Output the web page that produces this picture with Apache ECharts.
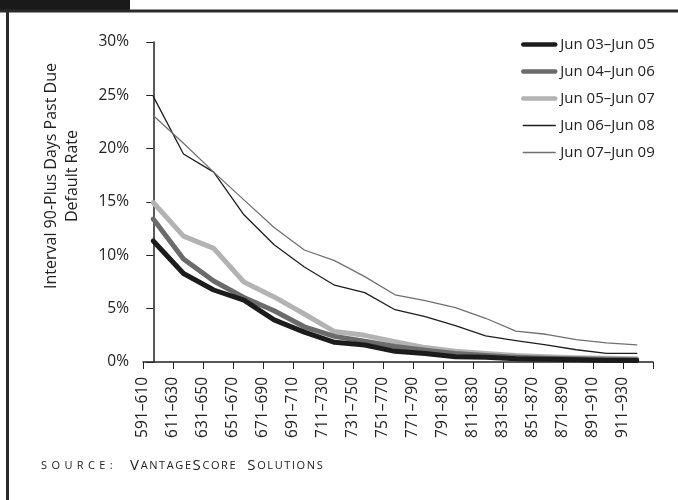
<!DOCTYPE html>
<html>
<head>
<meta charset="utf-8">
<script src="https://cdn.jsdelivr.net/npm/echarts@6/dist/echarts.min.js"></script>
<style>
  * { margin: 0; padding: 0; }
  body { background: #fff; }
  #chart { width: 678px; height: 500px; }
</style>
</head>
<body>
<div id="chart"></div>
<script>
// score bands on the x axis
var bands = ['591–610', '611–630', '631–650', '651–670', '671–690', '691–710', '711–730', '731–750',
  '751–770', '771–790', '791–810', '811–830', '831–850', '851–870', '871–890', '891–910', '911–930'];
var yTicks = [0, 5, 10, 15, 20, 25, 30];

// default rate (%) per band, one array per period
var jun03_05 = [11.35, 8.3, 6.75, 5.8, 3.95, 2.8, 1.85, 1.6, 1.0, 0.8, 0.5, 0.45, 0.3, 0.25, 0.2, 0.15, 0.15];
var jun04_06 = [13.4, 9.65, 7.6, 6.05, 4.8, 3.3, 2.4, 1.95, 1.45, 1.1, 0.8, 0.6, 0.45, 0.35, 0.3, 0.25, 0.2];
var jun05_07 = [14.95, 11.8, 10.65, 7.5, 6.1, 4.5, 2.85, 2.5, 1.9, 1.35, 1.0, 0.8, 0.6, 0.5, 0.4, 0.35, 0.3];
var jun06_08 = [24.9, 19.5, 17.8, 13.8, 11.0, 8.9, 7.2, 6.5, 4.9, 4.25, 3.4, 2.45, 2.0, 1.6, 1.15, 0.8, 0.8];
var jun07_09 = [23.1, 20.5, 17.8, 15.2, 12.6, 10.5, 9.5, 8.0, 6.3, 5.75, 5.1, 4.1, 2.9, 2.6, 2.1, 1.8, 1.6];

var names = ['Jun 03–Jun 05', 'Jun 04–Jun 06', 'Jun 05–Jun 07', 'Jun 06–Jun 08', 'Jun 07–Jun 09'];
var colors = ['#1c1c1c', '#6b6b6b', '#b3b3b3', '#1e1e1e', '#707070'];
var widths = [5, 5, 5, 1.3, 1.3];

var font = 'Open Sans';
var ink = '#222';

function mkSeries(idx, vals, z) {
  return {
    name: names[idx],
    type: 'line',
    xAxisIndex: 1,
    symbol: 'none',
    z: z,
    lineStyle: { color: colors[idx], width: widths[idx], cap: 'round', join: 'round' },
    itemStyle: { color: colors[idx] },
    data: vals.map(function (v, i) { return [i, v]; })
  };
}

// letter-spaced small caps for the source line
function spaced(str, style) {
  return str.split('').map(function (c) { return '{' + style + '|' + c + '}'; }).join('');
}

var myChart = echarts.init(document.getElementById('chart'));
myChart.setOption({
  backgroundColor: '#fff',
  animation: false,
  grid: { left: 143, right: 25, top: 42, bottom: 138 },
  legend: {
    orient: 'vertical',
    left: 521,
    top: 37,
    padding: 0,
    itemWidth: 32,
    itemHeight: 14,
    itemGap: 12,
    itemStyle: { opacity: 0 },
    textStyle: { fontFamily: font, fontSize: 15, color: ink },
    data: names.map(function (n, i) {
      return { name: n, lineStyle: { width: widths[i] < 2 ? 1.3 : 4.5 } };
    })
  },
  xAxis: [
    {
      type: 'category',
      boundaryGap: false,
      data: bands.concat(['']),
      axisLine: { lineStyle: { color: ink, width: 1.5 } },
      axisTick: { interval: 0, length: 7, lineStyle: { color: ink, width: 1 } },
      axisLabel: { interval: 0, rotate: 90, margin: 15, fontFamily: font, fontSize: 15.5, color: ink },
      splitLine: { show: false }
    },
    {
      type: 'value',
      show: false,
      min: -0.34,
      max: 16.54
    }
  ],
  yAxis: {
    type: 'value',
    min: yTicks[0],
    max: yTicks[yTicks.length - 1],
    interval: 5,
    axisLine: { show: true, lineStyle: { color: ink, width: 1.5 } },
    axisTick: { show: true, length: 7, lineStyle: { color: ink } },
    axisLabel: { margin: 14, fontFamily: font, fontSize: 15.5, color: ink, formatter: '{value}%' },
    splitLine: { show: false }
  },
  graphic: [
    { type: 'rect', shape: { x: 0, y: 0, width: 130, height: 10 }, style: { fill: '#1a1a1a' } },
    { type: 'rect', shape: { x: 0, y: 9.5, width: 678, height: 3 }, style: { fill: '#2a2a2a' } },
    { type: 'rect', shape: { x: 6, y: 9.5, width: 3, height: 491 }, style: { fill: '#2a2a2a' } },
    {
      type: 'text', x: 61.5, y: 176, rotation: Math.PI / 2,
      style: {
        text: 'Interval 90-Plus Days Past Due\nDefault Rate',
        fontFamily: font, fontSize: 16, lineHeight: 21, fill: ink,
        align: 'center', verticalAlign: 'middle'
      }
    },
    {
      type: 'text', x: 41, y: 466,
      style: {
        text: spaced('SOURCE:', 's') + '{s|   }' +
          '{b|V}' + spaced('ANTAGE', 'c') + '{b|S}' + spaced('CORE', 'c') + '{s|  }' +
          '{b|S}' + spaced('OLUTIONS', 'c'),
        verticalAlign: 'middle',
        rich: {
          s: { fontFamily: font, fontSize: 11, fill: ink, padding: [0, 4.4, 0, 0] },
          c: { fontFamily: font, fontSize: 11, fill: ink, padding: [0, 1.6, 0, 0] },
          b: { fontFamily: font, fontSize: 15, fill: ink, padding: [0, 1.6, 0, 0] }
        }
      }
    }
  ],
  series: [
    mkSeries(0, jun03_05, 4),
    mkSeries(1, jun04_06, 3),
    mkSeries(2, jun05_07, 2),
    mkSeries(3, jun06_08, 5),
    mkSeries(4, jun07_09, 5)
  ]
});
</script>
</body>
</html>
